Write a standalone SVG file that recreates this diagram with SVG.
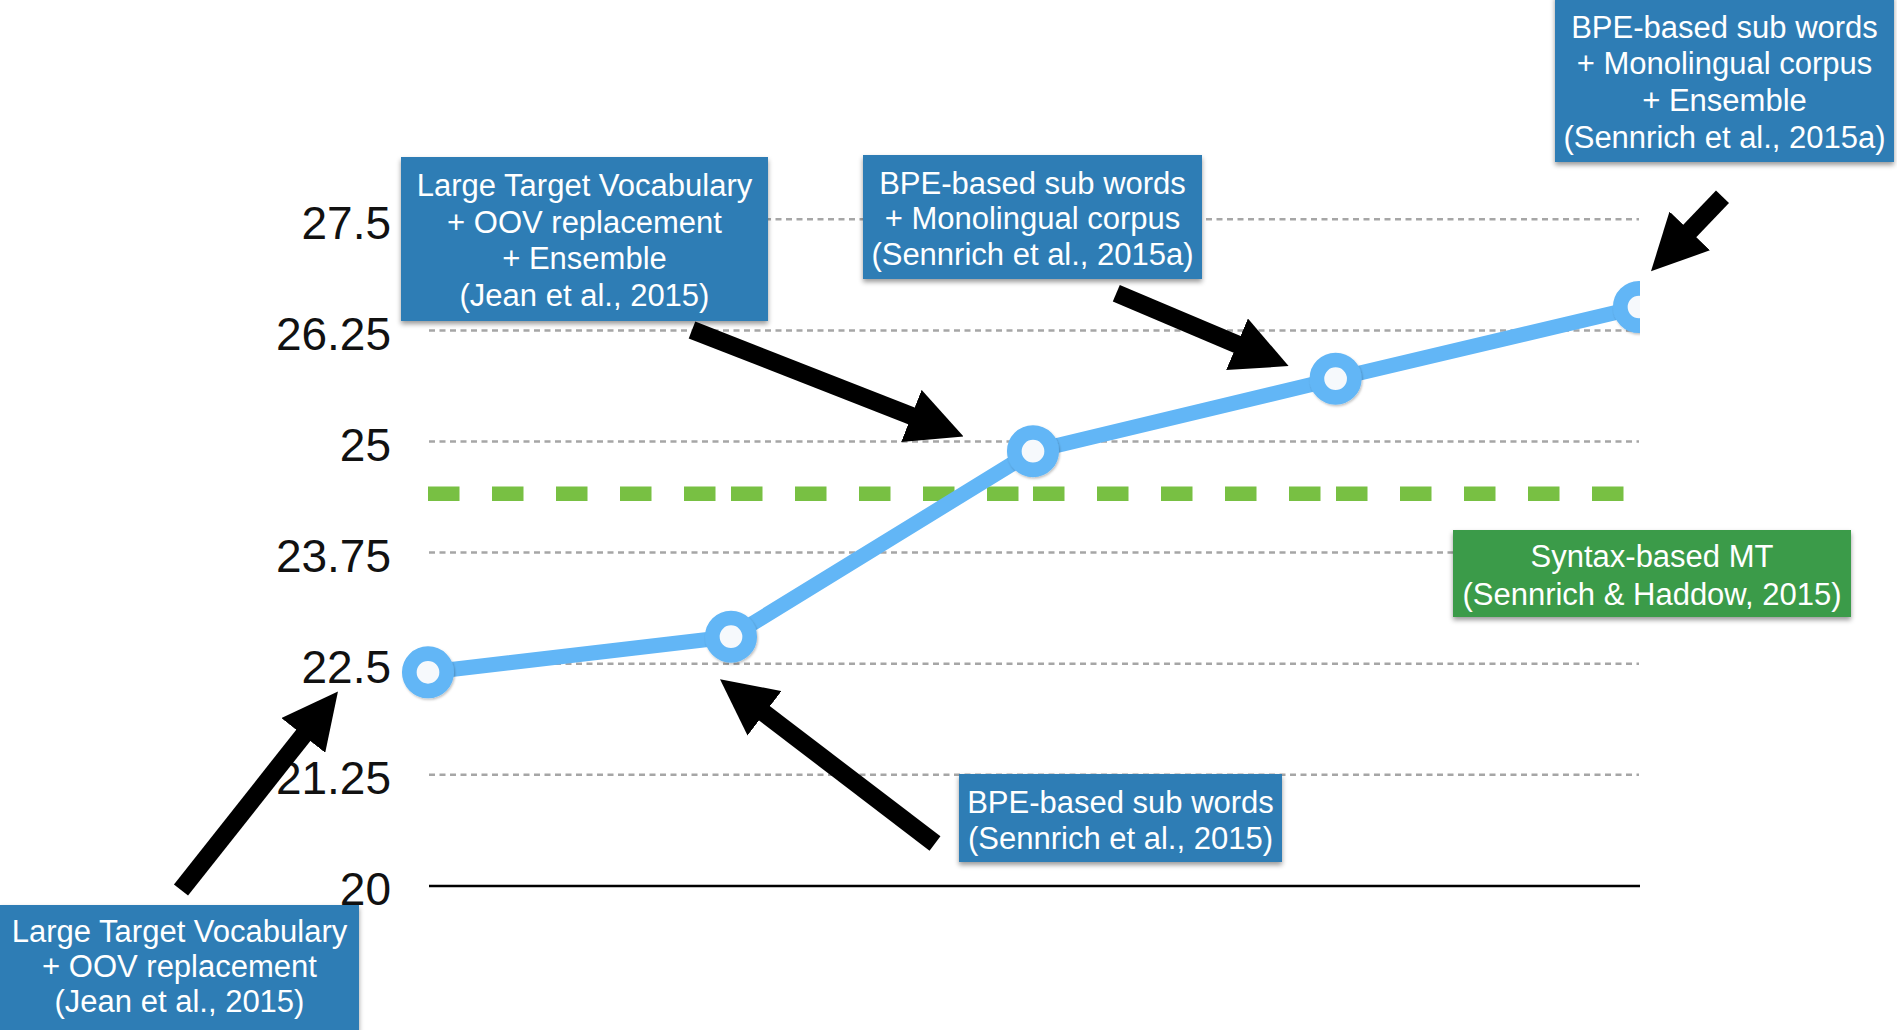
<svg xmlns="http://www.w3.org/2000/svg" width="1897" height="1030" viewBox="0 0 1897 1030">
<style>
.grid{stroke:#a6a6a6;stroke-width:2.5;stroke-dasharray:6 4.5;fill:none}
.ylab{font-family:"Liberation Sans",Arial,sans-serif;font-size:46px;fill:#111;text-anchor:end}
.box{fill:#2e7db5;filter:url(#sh)}
.gbox{fill:#3a9b48;filter:url(#sh)}
.bt{font-family:"Liberation Sans",Arial,sans-serif;font-size:31px;fill:#fff;text-anchor:middle}
.arr{stroke:#000;stroke-width:18;fill:none;marker-end:url(#ah)}
.gd{fill:#78c043}
.mk{fill:#f6f9fc;stroke:#62b6f6;stroke-width:14.7;filter:url(#msh)}
</style>
<defs>
<filter id="sh" x="-10%" y="-10%" width="120%" height="130%">
<feDropShadow dx="0" dy="3" stdDeviation="2.5" flood-color="#000" flood-opacity="0.4"/>
</filter>
<filter id="msh" x="-30%" y="-30%" width="160%" height="160%">
<feDropShadow dx="1" dy="1.5" stdDeviation="1.2" flood-color="#000" flood-opacity="0.25"/>
</filter>
<marker id="ah" markerUnits="userSpaceOnUse" markerWidth="56" markerHeight="56" viewBox="0 0 55 55" refX="2" refY="27.5" orient="auto">
<path d="M0,0 L55,27.5 L0,55 z" fill="#000"/>
</marker>
<clipPath id="plot"><rect x="0" y="0" width="1640" height="1030"/></clipPath>
</defs>
<rect x="0" y="0" width="1897" height="1030" fill="#fff"/>
<g id="axes">
<line class="grid" x1="429" y1="219.3" x2="1639" y2="219.3"/>
<line class="grid" x1="429" y1="330.4" x2="1639" y2="330.4"/>
<line class="grid" x1="429" y1="441.5" x2="1639" y2="441.5"/>
<line class="grid" x1="429" y1="552.6" x2="1639" y2="552.6"/>
<line class="grid" x1="429" y1="663.7" x2="1639" y2="663.7"/>
<line class="grid" x1="429" y1="774.8" x2="1639" y2="774.8"/>
<line x1="429" y1="886" x2="1640" y2="886" stroke="#000" stroke-width="2.5"/>
<text class="ylab" x="391" y="238.5">27.5</text>
<text class="ylab" x="391" y="349.5">26.25</text>
<text class="ylab" x="391" y="460.5">25</text>
<text class="ylab" x="391" y="571.5">23.75</text>
<text class="ylab" x="391" y="682.5">22.5</text>
<text class="ylab" x="391" y="793.5">21.25</text>
<text class="ylab" x="391" y="905">20</text>
</g>
<g id="baseline-syntax">
<rect class="gd" x="428" y="486.5" width="31.5" height="14.5"/>
<rect class="gd" x="492" y="486.5" width="31.5" height="14.5"/>
<rect class="gd" x="556" y="486.5" width="31.5" height="14.5"/>
<rect class="gd" x="620" y="486.5" width="31.5" height="14.5"/>
<rect class="gd" x="684" y="486.5" width="31.5" height="14.5"/>
<rect class="gd" x="731" y="486.5" width="31.5" height="14.5"/>
<rect class="gd" x="795" y="486.5" width="31.5" height="14.5"/>
<rect class="gd" x="859" y="486.5" width="31.5" height="14.5"/>
<rect class="gd" x="923" y="486.5" width="31.5" height="14.5"/>
<rect class="gd" x="987" y="486.5" width="31.5" height="14.5"/>
<rect class="gd" x="1033" y="486.5" width="31.5" height="14.5"/>
<rect class="gd" x="1097" y="486.5" width="31.5" height="14.5"/>
<rect class="gd" x="1161" y="486.5" width="31.5" height="14.5"/>
<rect class="gd" x="1225" y="486.5" width="31.5" height="14.5"/>
<rect class="gd" x="1289" y="486.5" width="31.5" height="14.5"/>
<rect class="gd" x="1336" y="486.5" width="31.5" height="14.5"/>
<rect class="gd" x="1400" y="486.5" width="31.5" height="14.5"/>
<rect class="gd" x="1464" y="486.5" width="31.5" height="14.5"/>
<rect class="gd" x="1528" y="486.5" width="31.5" height="14.5"/>
<rect class="gd" x="1592" y="486.5" width="31.5" height="14.5"/>
</g>
<g id="series" clip-path="url(#plot)">
<polyline points="428,672.3 731,636.7 1033,451.2 1335.6,378.7 1639,307" fill="none" stroke="#62b6f6" stroke-width="15" stroke-linejoin="round"/>
<circle id="p1" class="mk" cx="428" cy="672.3" r="18.7"/>
<circle id="p2" class="mk" cx="731" cy="636.7" r="18.7"/>
<circle id="p3" class="mk" cx="1033" cy="451.2" r="18.7"/>
<circle id="p4" class="mk" cx="1335.6" cy="378.7" r="18.7"/>
<circle id="p5" class="mk" cx="1639" cy="307" r="18.7"/>
</g>
<g id="box-jean-ensemble">
<rect class="box" x="401" y="157" width="367" height="164"/>
<text class="bt" x="584.5" y="196">Large Target Vocabulary</text>
<text class="bt" x="584.5" y="232.5">+ OOV replacement</text>
<text class="bt" x="584.5" y="269">+ Ensemble</text>
<text class="bt" x="584.5" y="305.5">(Jean et al., 2015)</text>
</g>
<g id="box-jean">
<rect class="box" x="0" y="905" width="359" height="130"/>
<text class="bt" x="179.5" y="942">Large Target Vocabulary</text>
<text class="bt" x="179.5" y="977">+ OOV replacement</text>
<text class="bt" x="179.5" y="1012">(Jean et al., 2015)</text>
</g>
<g id="box-bpe-mono-ens">
<rect class="box" x="1555" y="-5" width="339" height="167"/>
<text class="bt" x="1724.5" y="37.5">BPE-based sub words</text>
<text class="bt" x="1724.5" y="73.5">+ Monolingual corpus</text>
<text class="bt" x="1724.5" y="110.5">+ Ensemble</text>
<text class="bt" x="1724.5" y="147.5">(Sennrich et al., 2015a)</text>
</g>
<g id="box-bpe-mono">
<rect class="box" x="863" y="155" width="339" height="124"/>
<text class="bt" x="1032.5" y="193.5">BPE-based sub words</text>
<text class="bt" x="1032.5" y="229">+ Monolingual corpus</text>
<text class="bt" x="1032.5" y="265">(Sennrich et al., 2015a)</text>
</g>
<g id="box-bpe">
<rect class="box" x="959" y="774" width="323" height="88"/>
<text class="bt" x="1120.5" y="812.5">BPE-based sub words</text>
<text class="bt" x="1120.5" y="848.5">(Sennrich et al., 2015)</text>
</g>
<g id="box-syntax">
<rect class="gbox" x="1453" y="530" width="398" height="87"/>
<text class="bt" x="1652" y="567">Syntax-based MT</text>
<text class="bt" x="1652" y="605">(Sennrich &amp; Haddow, 2015)</text>
</g>
<g id="connectors">
<line class="arr" x1="181" y1="890" x2="304.5" y2="733.8"/>
<line class="arr" x1="935" y1="843.5" x2="762.9" y2="712.1"/>
<line class="arr" x1="692" y1="330" x2="913.3" y2="416.7"/>
<line class="arr" x1="1116.3" y1="293.3" x2="1238.9" y2="345.1"/>
<line class="arr" x1="1722.5" y1="196.7" x2="1688.3" y2="232.4"/>
</g>
</svg>
